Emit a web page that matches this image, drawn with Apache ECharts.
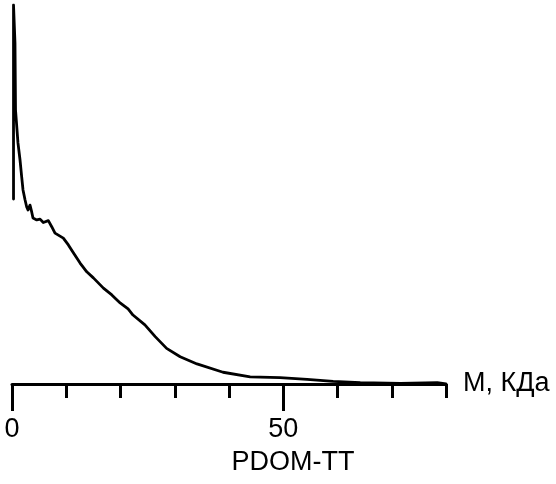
<!DOCTYPE html>
<html>
<head>
<meta charset="utf-8">
<script src="https://cdn.jsdelivr.net/npm/echarts@6/dist/echarts.min.js"></script>
<style>
  html, body { margin: 0; padding: 0; background: #fff; }
  #chart { width: 556px; height: 484px; }
</style>
</head>
<body>
<div id="chart"></div>
<script>
// Molecular mass distribution profile (relative intensity vs. M, kDa)
const massKDa = [
  0.28, 0.28, 0.55, 0.65, 1.1, 1.48, 1.79, 2.03, 2.4, 2.71, 2.95, 3.32, 3.63,
  3.87, 4.56, 5.17, 5.77, 6.7, 7.32, 7.93, 9.46, 10.39, 11.31, 12.55, 13.78,
  15.0, 16.85, 18.4, 19.93, 21.4, 22.3, 24.5, 26.4, 28.5, 31.0, 34.1, 38.9,
  43.9, 49.4, 54.4, 59.2, 64.2, 71.6, 78.4, 80
];
const intensity = [
  48.8, 100, 90, 72.3, 63.6, 59.1, 54.6, 51.2, 48.6, 46.7, 45.9, 47.2, 45.4,
  43.8, 43.3, 43.5, 42.6, 43.1, 41.5, 39.8, 38.5, 36.7, 34.6, 31.9, 29.6,
  28.0, 25.3, 23.5, 21.4, 19.8, 18.2, 15.6, 12.5, 9.4, 7.2, 5.3, 3.1,
  1.9, 1.7, 1.24, 0.71, 0.34, 0.18, 0.34, 0
];
const minorTicks = [10, 20, 30, 40, 60, 70, 80];
const majorTicks = [0, 50];
const axisName = 'М, КДа';
const chartTitle = 'PDOM-TT';

const FONT = 'Liberation Sans, Arial, sans-serif';
const points = massKDa.map((m, i) => [m, intensity[i]]);

const chart = echarts.init(document.getElementById('chart'), null, { renderer: 'canvas' });
chart.setOption({
  backgroundColor: '#fff',
  animation: false,
  title: {
    text: chartTitle,
    left: 288,
    top: 444,
    textAlign: 'center',
    textStyle: { fontFamily: FONT, fontSize: 27, fontWeight: 'normal', color: '#000' }
  },
  grid: { left: 12, right: 110, top: 5, bottom: 100, containLabel: false },
  xAxis: [
    {
      type: 'value', min: 0, max: 80, interval: 10,
      name: axisName, nameLocation: 'end', nameGap: 17,
      nameTextStyle: { fontFamily: FONT, fontSize: 27, color: '#000', verticalAlign: 'middle' },
      axisLine: { show: true, lineStyle: { color: '#000', width: 3 } },
      axisTick: { show: true, inside: false, length: 14, customValues: minorTicks,
                  lineStyle: { color: '#000', width: 3 } },
      axisLabel: { show: false },
      splitLine: { show: false }
    },
    {
      type: 'value', min: 0, max: 80, position: 'bottom', offset: 0,
      axisLine: { show: false },
      axisTick: { show: true, inside: false, length: 27, customValues: majorTicks,
                  lineStyle: { color: '#000', width: 3 } },
      axisLabel: { show: true, margin: 32, customValues: majorTicks,
                   fontFamily: FONT, fontSize: 27, color: '#000' },
      splitLine: { show: false }
    }
  ],
  yAxis: {
    type: 'value', min: 0, max: 100, show: false,
    splitLine: { show: false }
  },
  series: [{
    type: 'line',
    xAxisIndex: 0,
    data: points,
    showSymbol: false,
    smooth: false,
    lineStyle: { color: '#000', width: 2.8, cap: 'round', join: 'round' }
  }]
});
</script>
</body>
</html>
